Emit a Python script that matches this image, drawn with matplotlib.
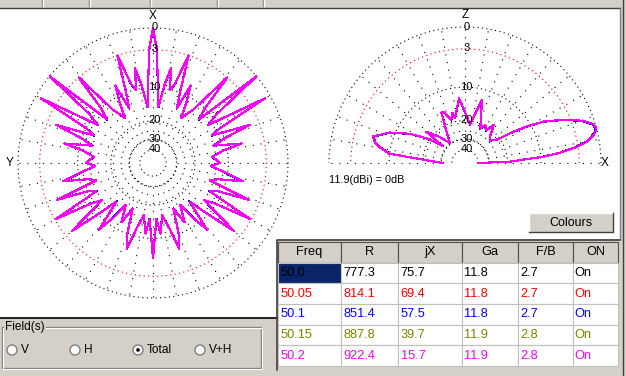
import numpy as np
import matplotlib
matplotlib.use("Agg")
import matplotlib.pyplot as plt
from matplotlib.patches import Rectangle, Circle

plt.rcParams['font.family'] = ['Liberation Sans', 'DejaVu Sans']

# table data
header = ['Freq', 'R', 'jX', 'Ga', 'F/B', 'ON']
freqs = ['50.0', '50.05', '50.1', '50.15', '50.2']
res_r = [777.3, 814.1, 851.4, 887.8, 922.4]
res_jx = [75.7, 69.4, 57.5, 39.7, 15.7]
gain = [11.8, 11.8, 11.8, 11.9, 11.9]
fb = [2.7, 2.7, 2.7, 2.8, 2.8]
on_flags = ['On', 'On', 'On', 'On', 'On']
colors = ['black', '#ff0000', '#0000ff', '#808000', '#ff00ff']
ref_dbi = 11.9

# horizontal pattern (half, degrees from X towards Y), dB
az_deg = [0, 2, 5.5, 8.5, 10.8, 13, 15.5, 18.3, 21, 23.5, 26, 28.5, 32, 37, 41,
          43.5, 46.5, 50, 52.5, 55.5, 60, 62.5, 65, 68.5, 71, 74, 77.6, 80, 84, 90,
          93, 97, 101.5, 104, 107, 111, 113.5, 116.5, 120, 123, 126, 130, 133, 136.5,
          141, 144, 147, 152, 156, 160, 163, 166, 170, 174, 176.5, 180]
az_db = [0, -3, -15, -9, -5.7, -10, -8.5, -3, -10, -14, -7.7, -11, -16, -12, -3,
         -10, -13, 0, -9, -12, -0.7, -10, -12.5, -4.5, -10, -13, -6.8, -11, -14, -12,
         -14.5, -11, -6.6, -12, -14, -4.7, -11, -13, -3.2, -10, -13, -4.2, -10, -16,
         -7.8, -12, -17, -12, -17, -10, -6.9, -12, -16, -11, -15, -6]

# vertical pattern (elevation degrees), dB
el_deg = [0, 1.7, 4.6, 6.2, 8.3, 9.9, 13, 15, 17, 19.7, 23.6, 27.8, 30.5, 33.4, 36,
          42, 46.5, 53, 57, 62, 66, 75, 82.5, 86, 95.3, 102.6, 104, 108, 112, 115,
          120, 127, 135, 141, 143, 147, 152, 158, 164, 167.4, 170, 173, 180]
el_db = [-40, -19, -9.3, -6, -3.1, -1.6, -0.3, 0, -0.3, -1.4, -3.9, -7.3, -10.8, -15.6, -21,
         -24, -22.6, -18, -21.5, -19.7, -22, -12.5, -21.5, -19.5, -12.6, -18.6, -16.6, -19, -15.7, -15.3,
         -22, -29, -22, -17.3, -27, -19, -13.4, -8.8, -6, -6.7, -8, -10, -31]

ring_db = [0, -3, -10, -20, -30, -40]
ring_lab = ['0', '3', '10', '20', '30', '40']


def arrl(db):
    # ARRL log scale: 2 dB per 0.89 radius step
    return 0.89 ** (-np.asarray(db, dtype=float) / 2.0)


W, H = 626, 376
fig = plt.figure(figsize=(W / 100, H / 100), dpi=100)
fig.patch.set_facecolor('#d4d0c8')

bg = fig.add_axes([0, 0, 1, 1])
bg.set_xlim(0, W)
bg.set_ylim(H, 0)
bg.axis('off')

# window panels
bg.add_patch(Rectangle((0, 8), 620, 231, facecolor='white', edgecolor='none'))
bg.add_patch(Rectangle((0, 8), 277, 310, facecolor='white', edgecolor='none'))
bg.plot([0, 620], [7.5, 7.5], color='#404040', lw=1)
bg.plot([0, 277], [318, 318], color='black', lw=1.2)
bg.plot([620, 620], [8, 239], color='#808080', lw=1)
bg.plot([623, 623], [0, 376], color='#404040', lw=1)
for x in [42, 89, 150, 217, 263]:
    bg.plot([x, x], [0, 6], color='#808080', lw=1)
    bg.plot([x + 1, x + 1], [0, 6], color='white', lw=1)

# Colours button
bg.add_patch(Rectangle((529, 213), 84, 19, facecolor='#d4d0c8', edgecolor='none'))
bg.plot([529, 529, 613], [232, 213, 213], color='white', lw=1)
bg.plot([529, 613, 613], [232, 232, 213], color='#404040', lw=1)
bg.text(571, 222.5, 'Colours', ha='center', va='center', fontsize=9)

bg.text(329, 180, '11.9(dBi) = 0dB', ha='left', va='center', fontsize=7.8)

# Field(s) group box
bg.add_patch(Rectangle((2, 327), 259, 41, facecolor='none', edgecolor='#808080', lw=1))
bg.add_patch(Rectangle((3, 328), 259, 41, facecolor='none', edgecolor='white', lw=0.8))
bg.text(5, 327, 'Field(s)', ha='left', va='center', fontsize=8.6,
        bbox=dict(facecolor='#d4d0c8', edgecolor='none', pad=1))
radio_labels = ['V', 'H', 'Total', 'V+H']
radio_x = [12, 75, 138, 200]
for lab, x in zip(radio_labels, radio_x):
    bg.add_patch(Circle((x, 350), 5, facecolor='white', edgecolor='#808080', lw=1))
    bg.text(x + 9, 350, lab, ha='left', va='center', fontsize=8.6)
bg.add_patch(Circle((radio_x[2], 350), 1.8, facecolor='black', edgecolor='none'))

# table
cell_text = [[f, f'{r:.1f}', f'{x:.1f}', f'{g:.1f}', f'{b:.1f}', o]
             for f, r, x, g, b, o in zip(freqs, res_r, res_jx, gain, fb, on_flags)]
tab = bg.table(cellText=cell_text, colLabels=header, cellLoc='left', colLoc='center',
               colWidths=[63, 57, 64, 56, 55, 45],
               bbox=[278 / W, (H - 366) / H, 340 / W, 124 / H])
tab.auto_set_font_size(False)
tab.set_fontsize(9.2)
for (row, col), cell in tab.get_celld().items():
    cell.PAD = 0.04
    cell.set_linewidth(0.8)
    if row == 0:
        cell.set_facecolor('#d4d0c8')
        cell.set_edgecolor('#505050')
    else:
        cell.set_facecolor('white')
        cell.set_edgecolor('#c0c0c0')
        cell.get_text().set_color(colors[row - 1])
        if row == 1 and col == 0:
            cell.set_facecolor('#0a246a')
bg.plot([277, 277, 620], [370, 240, 240], color='#404040', lw=1.2)

ring_dot = (0, (1, 3))
radial_dot = (0, (1, 6))


def draw_grid(ax, t0, t1):
    th = np.radians(np.linspace(t0, t1, 361))
    for db in ring_db:
        ax.plot(th, np.full_like(th, arrl(db)), color='red' if db == -3 else 'black',
                ls=ring_dot, lw=0.8, clip_on=False)
    stop = t1 + 1 if t1 < 360 else t1
    for a in range(t0, stop, 10):
        ax.plot([np.radians(a)] * 2, [arrl(-30), 1], color='black', ls=radial_dot,
                lw=0.8, clip_on=False)


# horizontal (azimuth) plot
axL = fig.add_axes([18 / W, 78 / H, 270 / W, 270 / H], projection='polar')
axL.set_theta_zero_location('N')
axL.set_ylim(0, 1)
axL.axis('off')
draw_grid(axL, 0, 360)
az = np.radians(np.concatenate([az_deg, -np.array(az_deg[::-1])]))
azv = np.concatenate([az_db, az_db[::-1]])
for c, g in zip(colors, gain):
    axL.plot(az, arrl(azv + g - ref_dbi), color=c, lw=0.8, clip_on=False,
             antialiased=False)
axL.text(0, 1.09, 'X', ha='center', va='center', fontsize=8.5)
axL.text(np.pi / 2, 1.06, 'Y', ha='center', va='center', fontsize=8.5)

# vertical (elevation) plot: the half-disk wedge is padded to a square box,
# so the axes box is 2R x 2R with the centre R/2 above its bottom
axR = fig.add_axes([329 / W, (H - 231) / H, 272 / W, 272 / H], projection='polar')
axR.set_thetamin(0)
axR.set_thetamax(180)
axR.set_ylim(0, 1)
axR.axis('off')
draw_grid(axR, 0, 180)
el = np.radians(el_deg)
for c, g in zip(colors, gain):
    axR.plot(el, arrl(np.array(el_db) + g - ref_dbi), color=c, lw=0.8, clip_on=False,
             antialiased=False)
axR.text(np.pi / 2, 1.09, 'Z', ha='center', va='center', fontsize=8.5)
axR.text(0, 1.03, 'X', ha='center', va='center', fontsize=8.5)

for ax, t in [(axL, 0), (axR, np.pi / 2)]:
    for db, lab in zip(ring_db, ring_lab):
        ax.annotate(lab, xy=(t, arrl(db)), xytext=(1.5, 0.5), textcoords='offset pixels',
                    ha='center', va='center', fontsize=8)

fig.savefig('out.png', dpi=100, facecolor=fig.get_facecolor())
